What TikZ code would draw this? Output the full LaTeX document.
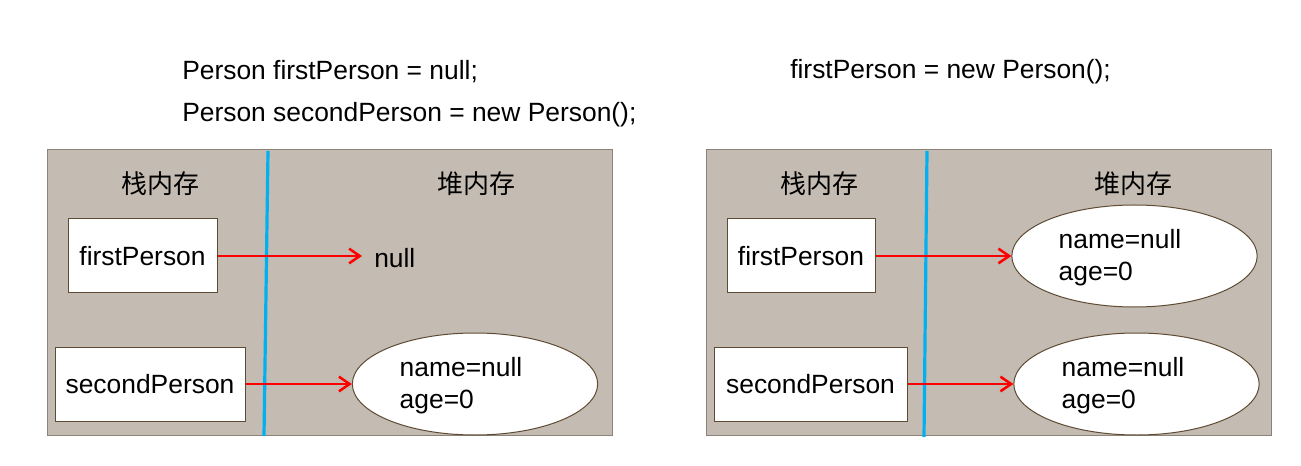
\documentclass[tikz,border=0pt]{standalone}
\usepackage{fontspec}
\setmainfont{Liberation Sans}
\newfontfamily\cjk{Noto Sans CJK SC}
\usetikzlibrary{arrows.meta,shapes.geometric}
\definecolor{panelbg}{RGB}{196,188,178}
\definecolor{panelframe}{RGB}{140,130,120}
\definecolor{boxframe}{RGB}{94,75,51}
\definecolor{divider}{RGB}{0,176,240}
\tikzset{
  panel/.style={fill=panelbg,draw=panelframe,line width=0.75pt},
  varbox/.style={rectangle,fill=white,draw=boxframe,line width=0.75pt,inner sep=0pt,font=\fontsize{19.8}{24}\selectfont},
  obj/.style={ellipse,fill=white,draw=boxframe,line width=0.75pt,inner sep=0pt,minimum width=184pt,minimum height=76.5pt},
  objtext/.style={align=left,inner sep=0pt,font=\fontsize{19.8}{24}\selectfont},
  code/.style={anchor=west,inner sep=0pt,font=\fontsize{19.8}{24}\selectfont},
  title/.style={inner sep=0pt,font=\cjk\fontsize{19.5}{24}\selectfont},
  plain/.style={inner sep=0pt,font=\fontsize{19.8}{24}\selectfont},
  ref/.style={draw=red,line width=1.9pt,-{Straight Barb[length=8pt,width=11pt,line width=1.9pt]}},
  divline/.style={draw=divider,line width=2.4pt}
}
\begin{document}
\begin{tikzpicture}[x=0.75pt,y=-0.75pt]
\useasboundingbox (0,0) rectangle (1301,466);
% code lines
\node[code] (c1) at (182,72) {Person firstPerson = null;};
\node[code] (c2) at (182,115) {Person secondPerson = new Person();};
\node[code] (c3) at (790,72) {firstPerson = new Person();};
% left panel
\path[panel] (47,150) rectangle (612,435);
\coordinate (dlt) at (268,151);
\coordinate (dlb) at (264,436);
\draw[divline] (dlt) -- (dlb);
\node[title] (stackL) at (160,184) {栈内存};
\node[title] (heapL) at (476,184) {堆内存};
\node[varbox,minimum width=111.75pt,minimum height=55.5pt] (fpL) at (142.5,256) {firstPerson};
\node[varbox,minimum width=142.5pt,minimum height=55.5pt] (spL) at (150,384) {secondPerson};
\node[plain,anchor=west] (nullL) at (374,258) {null};
\coordinate (nullend) at (362,256);
\node[obj] (objL) at (475,384) {};
\node[objtext] (objLt) at (461,386) {name=null\\age=0};
% right panel
\path[panel] (706,150) rectangle (1271,435);
\coordinate (drt) at (927,151);
\coordinate (drb) at (924,437);
\draw[divline] (drt) -- (drb);
\node[title] (stackR) at (819,184) {栈内存};
\node[title] (heapR) at (1133,184) {堆内存};
\node[varbox,minimum width=111pt,minimum height=55.5pt] (fpR) at (801,256) {firstPerson};
\node[varbox,minimum width=144.75pt,minimum height=55.5pt] (spR) at (810.5,384) {secondPerson};
\node[obj] (objR1) at (1134.5,256) {};
\node[objtext] (objR1t) at (1120,258) {name=null\\age=0};
\node[obj] (objR2) at (1136.5,384) {};
\node[objtext] (objR2t) at (1123,386) {name=null\\age=0};
% arrows
\draw[ref] (fpL.east) -- (nullend);
\draw[ref] (spL.east) -- (objL.west);
\draw[ref] (fpR.east) -- (objR1.west);
\draw[ref] (spR.east) -- (objR2.west);
\end{tikzpicture}
\end{document}
